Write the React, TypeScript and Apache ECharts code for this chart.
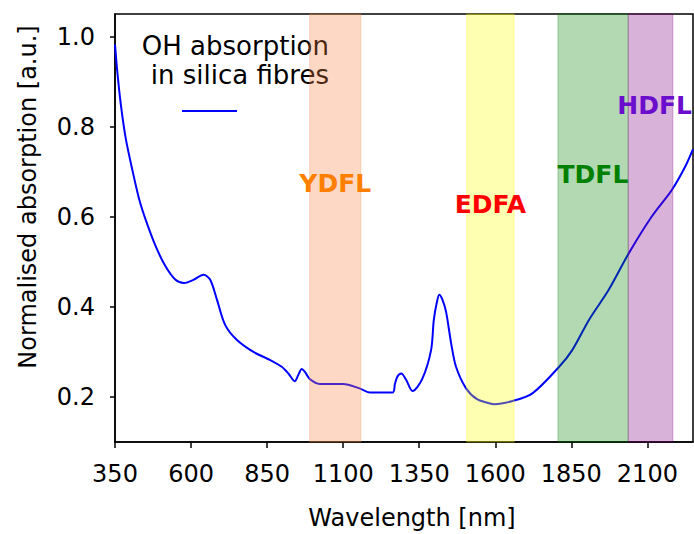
import React, { useEffect, useRef } from "react";
import * as echarts from "echarts";

// OH absorption curve (wavelength in nm, normalised absorption)
const wavelengths = [
  350, 358, 369, 385, 407, 429, 451, 484, 516, 549, 577, 608, 641, 663, 685,
  712, 750, 805, 860, 898, 920, 941, 952, 964, 976, 990, 1023, 1100, 1154, 1187,
  1263, 1270, 1278, 1291, 1307, 1328, 1360, 1389, 1398, 1408, 1416, 1425, 1438,
  1455, 1471, 1504, 1540, 1580, 1597, 1657, 1722, 1810, 1853, 1908, 1973, 2039,
  2115, 2181, 2225, 2250,
];
const absorption = [
  0.982, 0.919, 0.85, 0.775, 0.704, 0.64, 0.593, 0.534, 0.49, 0.46, 0.453,
  0.46, 0.471, 0.46, 0.416, 0.36, 0.327, 0.3, 0.282, 0.267, 0.252, 0.235,
  0.248, 0.262, 0.254, 0.24, 0.229, 0.229, 0.219, 0.21, 0.21, 0.228, 0.245,
  0.252, 0.238, 0.213, 0.24, 0.304, 0.371, 0.41, 0.427, 0.418, 0.39, 0.319,
  0.267, 0.219, 0.195, 0.186, 0.184, 0.191, 0.208, 0.267, 0.304, 0.371, 0.438,
  0.519, 0.601, 0.66, 0.712, 0.75,
];

const xTicks = [350, 600, 850, 1100, 1350, 1600, 1850, 2100];
const yTicks = [0.2, 0.4, 0.6, 0.8, 1.0];

// Amplifier / laser bands (nm)
const bandNames = ["YDFL", "EDFA", "TDFL", "HDFL"];
const bandStart = [990, 1506, 1806, 2037];
const bandEnd = [1158, 1662, 2037, 2184];
// where each band's name is written (data units)
const bandLabelX = [1074, 1584, 1921, 2124];
const bandLabelY = [0.673, 0.627, 0.693, 0.847];

const bandFills = [
  "rgba(250,128,64,0.3)",
  "rgba(255,255,0,0.3)",
  "rgba(0,128,0,0.3)",
  "rgba(128,0,128,0.3)",
];
const bandLabelColors = ["#ff7f00", "#ff0000", "#008000", "#6a0dcc"];

const FONT = "DejaVu Sans";

export default function App() {
  const ref = useRef<HTMLDivElement>(null);

  useEffect(() => {
    document.body.style.margin = "0";
    if (!ref.current) return;
    const chart = echarts.init(ref.current, undefined, { renderer: "svg" });

    const curve = wavelengths.map((w, i) => [w, absorption[i]]);
    const areas = bandNames.map((n, i) => [
      {
        xAxis: bandStart[i],
        itemStyle: {
          color: bandFills[i],
          borderColor: bandFills[i],
          borderWidth: 1,
        },
      },
      { xAxis: bandEnd[i] },
    ]);
    const labels = bandNames.map((n, i) => ({
      name: n,
      value: [bandLabelX[i], bandLabelY[i]],
      label: { color: bandLabelColors[i] },
    }));

    chart.setOption({
      animation: false,
      textStyle: { fontFamily: FONT },
      grid: {
        left: 115,
        right: 1,
        top: 14,
        bottom: 92,
        outerBoundsMode: "none",
        containLabel: false,
        show: true,
        borderColor: "#000",
        borderWidth: 1.5,
        backgroundColor: "transparent",
      },
      xAxis: {
        type: "value",
        min: 350,
        max: 2250,
        splitLine: { show: false },
        axisLine: { show: true, lineStyle: { color: "#000", width: 1.5 } },
        axisTick: {
          show: true,
          length: 6,
          inside: false,
          customValues: xTicks,
          lineStyle: { color: "#000", width: 1.5 },
        },
        axisLabel: {
          customValues: xTicks,
          fontSize: 24,
          color: "#000",
          margin: 20,
          fontFamily: FONT,
          formatter: (v: number) => String(v),
        },
        name: "Wavelength [nm]",
        nameLocation: "middle",
        nameGap: 64,
        nameTextStyle: {
          fontSize: 24,
          color: "#000",
          fontFamily: FONT,
          padding: [0, 0, 0, 16],
        },
      },
      yAxis: {
        type: "value",
        min: 0.1,
        max: 1.05,
        splitLine: { show: false },
        axisLine: { show: true, lineStyle: { color: "#000", width: 1.5 } },
        axisTick: {
          show: true,
          length: 5,
          customValues: yTicks,
          lineStyle: { color: "#000", width: 1.5 },
        },
        axisLabel: {
          customValues: yTicks,
          fontSize: 24,
          color: "#000",
          margin: 20,
          fontFamily: FONT,
          formatter: (v: number) => v.toFixed(1),
        },
      },
      graphic: [
        {
          type: "text",
          x: 28,
          y: 197,
          rotation: Math.PI / 2,
          style: {
            text: "Normalised absorption [a.u.]",
            fontSize: 24,
            fontFamily: FONT,
            fill: "#000",
            align: "center",
            verticalAlign: "middle",
          },
        },
        {
          type: "text",
          x: 329,
          y: 46,
          style: {
            text: "OH absorption",
            fontSize: 26,
            fontFamily: FONT,
            fill: "#000",
            align: "right",
            verticalAlign: "middle",
          },
        },
        {
          type: "text",
          x: 329,
          y: 75,
          style: {
            text: "in silica fibres",
            fontSize: 26,
            fontFamily: FONT,
            fill: "#000",
            align: "right",
            verticalAlign: "middle",
          },
        },
        {
          type: "line",
          shape: { x1: 182, y1: 111, x2: 237, y2: 111 },
          style: { stroke: "#0000ff", lineWidth: 2 },
        },
      ],
      series: [
        {
          type: "line",
          name: "OH absorption in silica fibres",
          data: curve,
          showSymbol: false,
          symbol: "none",
          smooth: 0.3,
          z: 2,
          lineStyle: { color: "#0000ff", width: 2 },
        },
        {
          type: "line",
          name: "bands",
          data: [],
          z: 3,
          silent: true,
          markArea: {
            z: 3,
            silent: true,
            label: { show: false },
            data: areas,
          },
        },
        {
          type: "scatter",
          name: "band labels",
          data: labels,
          symbolSize: 0,
          z: 10,
          silent: true,
          itemStyle: { opacity: 1 },
          label: {
            show: true,
            position: "inside",
            opacity: 1,
            formatter: (p: any) => p.name,
            fontSize: 25,
            fontWeight: "bold",
            fontFamily: FONT,
          },
        },
      ],
    });

    return () => chart.dispose();
  }, []);

  return <div ref={ref} style={{ width: 694, height: 534 }} />;
}
